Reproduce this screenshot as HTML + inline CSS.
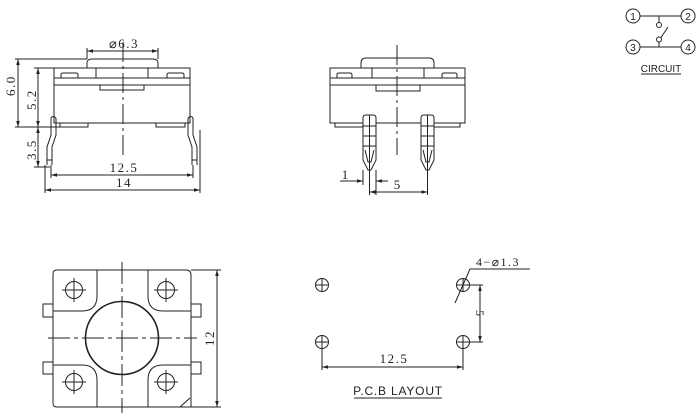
<!DOCTYPE html>
<html><head><style>
html,body{margin:0;padding:0;background:#fff;}
svg{display:block;}
text{font-family:"Liberation Serif",serif;fill:#222;}
.d{letter-spacing:1.5px;}
.s{font-family:"Liberation Sans",sans-serif;}
</style></head><body>
<svg width="700" height="418" viewBox="0 0 700 418" xmlns="http://www.w3.org/2000/svg" fill="none" stroke="#222" stroke-width="1">
<defs>
<marker id="a" viewBox="0 0 10 10" refX="10" refY="5" markerWidth="6" markerHeight="6" orient="auto-start-reverse"><path d="M0,2 L10,5 L0,8 z" fill="#222" stroke="none"/></marker>
</defs>

<!-- FRONT VIEW -->
<path d="M87,68 V63 Q87,59 92,59 H153 Q158,59 158,63 V68"/>
<rect x="54" y="68" width="136" height="55"/>
<line x1="54" y1="78" x2="190" y2="78"/>
<line x1="54" y1="85" x2="190" y2="85"/>
<line x1="96" y1="68" x2="96" y2="78"/><line x1="148" y1="68" x2="148" y2="78"/>
<path d="M61,78 V75 Q61,73 63,73 H76 Q78,73 78,75 V78"/>
<path d="M167,78 V75 Q167,73 169,73 H182 Q184,73 184,75 V78"/>
<rect x="100" y="85" width="44" height="5"/>
<rect x="60" y="123" width="28" height="4"/>
<rect x="156" y="123" width="29" height="4"/>
<path d="M51,118 V135 L47,147 V165 M56,118 V135 L52,147 V165"/>
<path d="M51,118 Q53,115 56,118"/>
<path d="M193,118 V135 L197,147 V165 M188,118 V135 L192,147 V165"/>
<path d="M188,118 Q191,115 193,118"/>
<line x1="47" y1="160" x2="52" y2="160"/><line x1="192" y1="160" x2="197" y2="160"/>
<line x1="123" y1="42" x2="123" y2="155" stroke-dasharray="20,4,3,4"/>
<!-- dims -->
<line x1="87" y1="59" x2="87" y2="48"/><line x1="158" y1="59" x2="158" y2="48"/>
<line x1="87" y1="51" x2="158" y2="51" marker-start="url(#a)" marker-end="url(#a)"/>
<text class="d" x="124" y="48" font-size="13" text-anchor="middle" stroke="none">⌀6.3</text>
<line x1="15" y1="59" x2="87" y2="59"/>
<line x1="15" y1="127" x2="60" y2="127"/>
<line x1="34" y1="68" x2="54" y2="68"/>
<line x1="34" y1="167" x2="50" y2="167"/>
<line x1="18" y1="59" x2="18" y2="127" marker-start="url(#a)" marker-end="url(#a)"/>
<line x1="38" y1="68" x2="38" y2="127" marker-start="url(#a)" marker-end="url(#a)"/>
<line x1="38" y1="127" x2="38" y2="167" marker-start="url(#a)" marker-end="url(#a)"/>
<text class="d" transform="translate(15,96) rotate(-90)" font-size="13" stroke="none">6.0</text>
<text class="d" transform="translate(36,110) rotate(-90)" font-size="13" stroke="none">5.2</text>
<text class="d" transform="translate(36,160) rotate(-90)" font-size="13" stroke="none">3.5</text>
<line x1="51" y1="165" x2="51" y2="178"/><line x1="193" y1="165" x2="193" y2="178"/>
<line x1="45" y1="165" x2="45" y2="193"/><line x1="200" y1="130" x2="200" y2="193"/>
<line x1="51" y1="175" x2="193" y2="175" marker-start="url(#a)" marker-end="url(#a)"/>
<line x1="45" y1="190" x2="200" y2="190" marker-start="url(#a)" marker-end="url(#a)"/>
<text class="d" x="124" y="172" font-size="13" text-anchor="middle" stroke="none">12.5</text>
<text class="d" x="124" y="187" font-size="13" text-anchor="middle" stroke="none">14</text>

<!-- SIDE VIEW -->
<path d="M361,68 V63 Q361,58 366,58 H429 Q434,58 434,63 V68"/>
<rect x="330" y="68" width="135" height="55"/>
<line x1="330" y1="78" x2="465" y2="78"/>
<line x1="330" y1="85" x2="465" y2="85"/>
<line x1="372" y1="68" x2="372" y2="78"/><line x1="424" y1="68" x2="424" y2="78"/>
<path d="M337,78 V75 Q337,73 339,73 H350 Q352,73 352,75 V78"/>
<path d="M442,78 V75 Q442,73 444,73 H455 Q457,73 457,75 V78"/>
<rect x="376" y="85" width="44" height="6"/>
<rect x="335" y="123" width="28" height="4"/>
<rect x="432" y="123" width="28" height="4"/>
<g fill="#fff">
<path d="M363,118 Q363,115 366,115 H373 Q376,115 376,118 V160 L371,170 H368 L363,160 Z"/>
<path d="M421,118 Q421,115 424,115 H431 Q434,115 434,118 V160 L429,170 H426 L421,160 Z"/>
</g>
<path d="M369.5,115 V170 M427.5,115 V170"/>
<path d="M363,126 H376 M363,136 H376 M363,146 H376 M421,126 H434 M421,136 H434 M421,146 H434"/>
<path d="M365,150 L368,162 H371 L374,150 M423,150 L426,162 H429 L432,150"/>
<line x1="397" y1="45" x2="397" y2="155" stroke-dasharray="20,4,3,4"/>
<line x1="363" y1="170" x2="363" y2="185"/><line x1="376" y1="170" x2="376" y2="195"/>
<line x1="369.5" y1="170" x2="369.5" y2="195"/><line x1="427.5" y1="170" x2="427.5" y2="195"/>
<line x1="340" y1="181" x2="363" y2="181" marker-end="url(#a)"/>
<line x1="388" y1="181" x2="376" y2="181" marker-end="url(#a)"/>
<text x="345" y="179" font-size="13" text-anchor="middle" stroke="none">1</text>
<line x1="369.5" y1="192" x2="427.5" y2="192" marker-start="url(#a)" marker-end="url(#a)"/>
<text x="397" y="189" font-size="13" text-anchor="middle" stroke="none">5</text>

<!-- TOP VIEW -->
<path d="M57,270 H186 Q191,270 191,275 V407 H57 Q53,407 53,403 V274 Q53,270 57,270 Z"/>
<path d="M180,407 L190,398"/>
<path d="M97,270 V296 Q97,311 82,311 H53"/>
<path d="M148,270 V296 Q148,311 163,311 H191"/>
<path d="M97,407 V380 Q97,365 82,365 H53"/>
<path d="M148,407 V380 Q148,365 163,365 H191"/>
<rect x="43" y="304" width="10" height="13"/><rect x="43" y="362" width="10" height="12"/>
<rect x="191" y="304" width="10" height="13"/><rect x="191" y="362" width="10" height="12"/>
<circle cx="74" cy="290" r="8.5"/><circle cx="166" cy="290" r="8.5"/>
<circle cx="74" cy="382" r="8.5"/><circle cx="166" cy="382" r="8.5"/>
<path d="M62,290 H86 M74,278 V302 M154,290 H178 M166,278 V302 M62,382 H86 M74,370 V394 M154,382 H178 M166,370 V394"/>
<circle cx="122" cy="338" r="36.5" stroke-width="1.6"/>
<line x1="48" y1="338" x2="197" y2="338" stroke-dasharray="22,4,4,4"/>
<line x1="122" y1="262" x2="122" y2="413" stroke-dasharray="22,4,4,4"/>
<line x1="191" y1="270" x2="221" y2="270"/><line x1="191" y1="407" x2="221" y2="407"/>
<line x1="217" y1="270" x2="217" y2="407" marker-start="url(#a)" marker-end="url(#a)"/>
<text class="d" transform="translate(214,338) rotate(-90)" font-size="13" text-anchor="middle" stroke="none">12</text>

<!-- PCB -->
<g>
<circle cx="322" cy="285" r="6.5"/><circle cx="463" cy="285" r="6.5"/>
<circle cx="322" cy="342" r="6.5"/><circle cx="463" cy="342" r="6.5"/>
<path d="M315,285 H329 M322,278 V292 M456,285 H470 M463,278 V292 M315,342 H329 M322,335 V349 M456,342 H470 M463,335 V349"/>
</g>
<line x1="322" y1="349" x2="322" y2="370"/><line x1="463" y1="349" x2="463" y2="370"/>
<line x1="322" y1="367" x2="463" y2="367" marker-start="url(#a)" marker-end="url(#a)"/>
<text class="d" x="394" y="363" font-size="13" text-anchor="middle" stroke="none">12.5</text>
<line x1="470" y1="285" x2="483" y2="285"/><line x1="470" y1="342" x2="483" y2="342"/>
<line x1="480" y1="285" x2="480" y2="342" marker-start="url(#a)" marker-end="url(#a)"/>
<text transform="translate(476,313) rotate(90)" font-size="12" text-anchor="middle" stroke="none">5</text>
<path d="M455,303 L470,269 H530"/>
<text class="d" x="476" y="266" font-size="12" stroke="none">4−⌀1.3</text>
<text class="s" x="398" y="395" font-size="12" text-anchor="middle" stroke="none" letter-spacing="0.8">P.C.B LAYOUT</text>
<line x1="354" y1="398" x2="442" y2="398"/>

<!-- CIRCUIT -->
<circle cx="633" cy="16" r="7"/><circle cx="688" cy="16" r="7"/>
<circle cx="633" cy="47" r="7"/><circle cx="688" cy="47" r="7"/>
<text class="s" x="633" y="20" font-size="10" text-anchor="middle" stroke="none">1</text>
<text class="s" x="688" y="20" font-size="10" text-anchor="middle" stroke="none">2</text>
<text class="s" x="633" y="51" font-size="10" text-anchor="middle" stroke="none">3</text>
<text class="s" x="688" y="51" font-size="10" text-anchor="middle" stroke="none">4</text>
<line x1="640" y1="16" x2="681" y2="16"/><line x1="640" y1="47" x2="681" y2="47"/>
<line x1="659" y1="16" x2="659" y2="22"/><circle cx="659" cy="25" r="2.5"/>
<line x1="659" y1="42" x2="659" y2="47"/><circle cx="659" cy="39.5" r="2.5"/>
<line x1="661" y1="37.5" x2="668" y2="27"/>
<text class="s" x="661" y="72" font-size="10" text-anchor="middle" stroke="none">CIRCUIT</text>
<line x1="641" y1="74" x2="681" y2="74"/>
</svg>
</body></html>
